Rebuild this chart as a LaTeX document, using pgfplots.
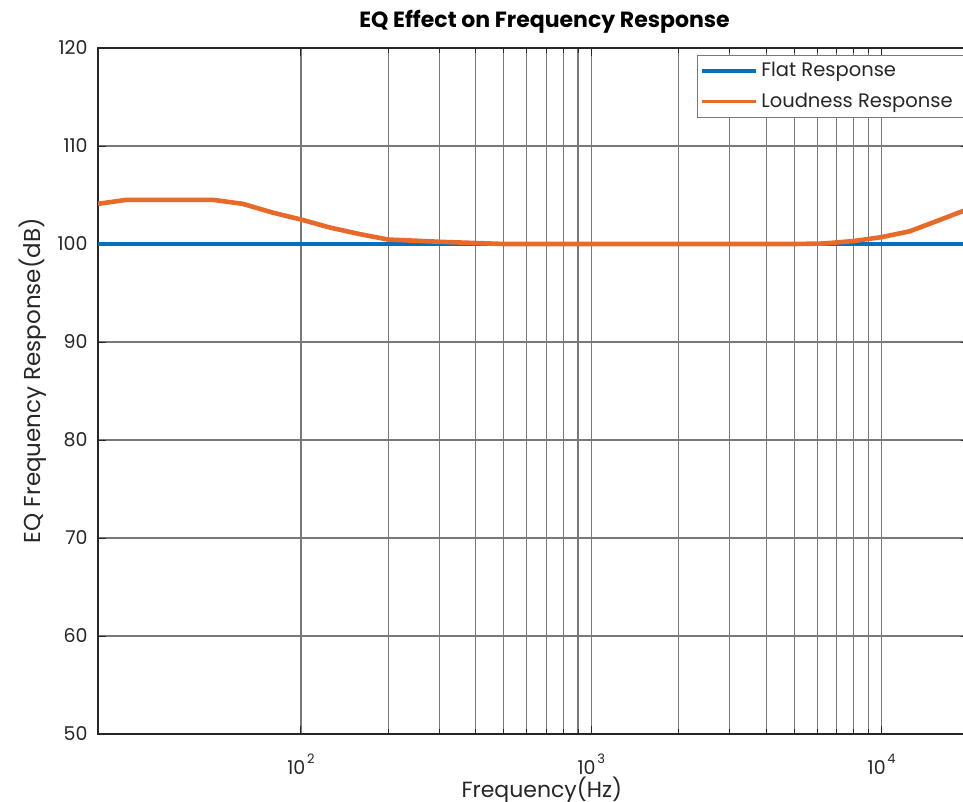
\documentclass[border=0pt]{standalone}
\usepackage{pgfplots}
\pgfplotsset{compat=1.18}
\usepackage{fontspec}
\setmainfont{Poppins}
\definecolor{flatblue}{RGB}{0,114,189}
\definecolor{loudorange}{RGB}{232,106,40}
\definecolor{axgray}{RGB}{38,38,38}
\definecolor{gridgray}{RGB}{120,120,120}
\newcommand{\tenexp}[1]{10\kern0.8pt\raisebox{0.55em}{\fontsize{6.5}{7}\selectfont #1}}
\begin{document}
\begin{tikzpicture}
\begin{semilogxaxis}[
  scale only axis,
  width=435.5pt, height=343pt,
  xmin=20, xmax=20000, ymin=50, ymax=120,
  ytick={50,60,...,120},
  xtick={100,1000,10000},
  xticklabels={\tenexp{2},\tenexp{3},\tenexp{4}},
  minor xtick={200,300,400,500,600,700,800,900,2000,3000,4000,5000,6000,7000,8000,9000},
  grid=both,
  major grid style={gridgray, line width=0.55pt},
  minor grid style={gridgray, line width=0.55pt},
  axis line style={axgray, line width=0.6pt},
  tick style={axgray, line width=0.5pt},
  tick align=inside,
  major tick length=4pt, minor tick length=2.5pt,
  /pgf/number format/assume math mode=true,
  ticklabel style={font=\fontsize{9.5}{11}\selectfont, text=axgray},
  yticklabel style={inner sep=0pt, xshift=-5pt},
  xticklabel style={inner sep=0pt, yshift=-10pt},
  title={\bfseries EQ Effect on Frequency Response},
  title style={at={(axis description cs:0.5126,1)}, anchor=base, yshift=4.5pt, font=\fontsize{11}{13}\selectfont},
  xlabel={Frequency(Hz)},
  xlabel style={at={(axis description cs:0.5095,0)}, anchor=base, yshift=-31.5pt, font=\fontsize{11}{13}\selectfont, text=axgray},
  ylabel={EQ Frequency Response(dB)},
  ylabel style={at={(axis description cs:-0.0746,0.515)}, anchor=center, font=\fontsize{11.5}{13}\selectfont, text=axgray},
  legend style={at={(axis description cs:1,1)}, anchor=north east, xshift=1pt, yshift=-3.5pt,
    draw=gridgray, fill=white, font=\fontsize{9.75}{11}\selectfont, text=axgray,
    row sep=2.5pt, inner xsep=1pt, inner ysep=1.5pt, cells={anchor=west}},
  legend image code/.code={\draw[#1, line width=1.8pt] (0pt,0pt) -- (27pt,0pt);},
]
\addplot[flatblue, line width=2.3pt] coordinates {(20,100) (20000,100)};
\addlegendentry{Flat Response}
\addplot[loudorange, line width=2.3pt] coordinates {
(20,104.1) (25,104.5) (31.5,104.5) (40,104.5) (50,104.5) (63,104.1) (80,103.2)
(100,102.5) (125,101.7) (160,101.0) (200,100.45) (250,100.33) (315,100.2) (400,100.1)
(500,100) (630,100) (800,100) (1000,100) (1250,100) (1600,100) (2000,100) (2500,100)
(3150,100) (4000,100) (5000,100) (6300,100.05) (8000,100.3) (10000,100.7) (12500,101.3)
(16000,102.5) (20000,103.6)};
\addlegendentry{Loudness Response\rule{6pt}{0pt}}
\coordinate (SW) at (rel axis cs:0,0);
\coordinate (NE) at (rel axis cs:1,1);
\end{semilogxaxis}
\pgfresetboundingbox
\path[use as bounding box] ([shift={(-49pt,-34pt)}]SW) rectangle ([shift={(-3pt,24pt)}]NE);
\end{tikzpicture}
\end{document}
